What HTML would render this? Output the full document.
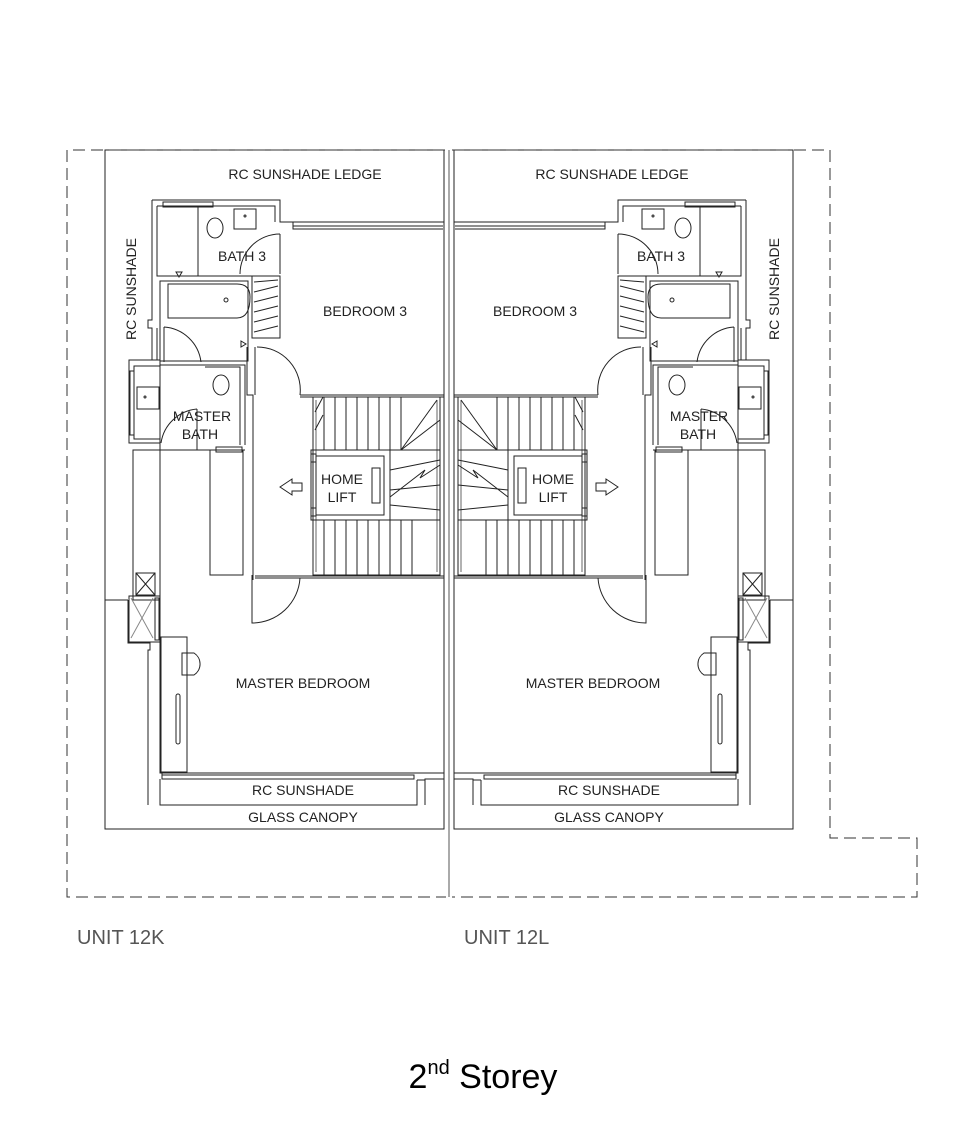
<!DOCTYPE html>
<html><head><meta charset="utf-8"><style>
html,body{margin:0;padding:0;background:#fff;}
svg{display:block;}
text{font-family:"Liberation Sans",sans-serif;fill:#222;}
</style></head><body>
<svg width="966" height="1125" viewBox="0 0 966 1125" xmlns="http://www.w3.org/2000/svg">
<defs>
<g id="unit" fill="none" stroke="#222" stroke-width="1">
  <!-- outer solid -->
  <path d="M105,150 H444 V829 H105 Z"/>
  <line x1="444" y1="150" x2="444" y2="208"/>
  <!-- bath 3 block -->
  <path d="M152,200 H280 V222 H444"/>
  <path d="M157,206 H275 V222"/>
  <rect x="163" y="202" width="50" height="5"/>
  <path d="M293,222 V229 H443 M293,226 H443"/>
  <path d="M157,206 V276 H275 M198,206 V276"/>
  <ellipse cx="215" cy="228" rx="8" ry="10"/>
  <rect x="234" y="209" width="22" height="20"/>
  <circle cx="245" cy="216" r="1"/>
  <path d="M280,234 A40,40 0 0,0 240,274"/>
  <line x1="280" y1="234" x2="280" y2="274"/>
  <path d="M176,272 l3,5 l3,-5 z"/>
  <!-- bath tub area -->
  <rect x="160" y="281" width="88" height="80"/>
  <path d="M168,284 H237 Q250,284 250,297 Q250,318 237,318 H168 Z"/>
  <circle cx="226" cy="300" r="2"/>
  <path d="M164,327 A40,40 0 0,1 201,362 M164,327 V362"/>
  <path d="M241,341 l5,3 l-5,3 z"/>
  <!-- shower screen -->
  <rect x="252" y="276" width="28" height="62"/>
  <path d="M254,282 L278,280 M254,292 L278,286 M254,302 L278,296 M254,312 L278,306 M254,322 L278,316 M254,332 L278,326"/>
  <!-- left wall -->
  <path d="M152,200 V320 H148 V328 H152 V360"/>
  <path d="M157,328 V360"/>
  <!-- master bath -->
  <path d="M129,360 H160 V443 H129 Z"/>
  <rect x="134" y="366" width="26" height="73"/>
  <rect x="130" y="371" width="4" height="64"/>
  <rect x="137" y="387" width="22" height="22"/>
  <circle cx="145" cy="397" r="1"/>
  <path d="M160,365 H245 V445"/>
  <path d="M205,367 H240 V445"/>
  <ellipse cx="221" cy="385" rx="8" ry="10"/>
  <path d="M161,443 A40,40 0 0,1 197,409 M197,409 V450"/>
  <rect x="216" y="447" width="26" height="5"/>
  <path d="M160,450 H245"/>
  <!-- corridor column -->
  <path d="M247,347 V395 H253 V580"/>
  <path d="M255,347 V395"/>
  <path d="M210,450 H243 V575 H210 Z"/>
  <path d="M133,450 H160 V600 H133 Z"/>
  <rect x="136" y="573" width="19" height="22"/>
  <path d="M136,573 l19,22 M155,573 l-19,22"/>
  <!-- bedroom 3 door -->
  <path d="M257,347 A43,43 0 0,1 300,395"/>
  <path d="M300,395 H444 M300,397 H444"/>
  <!-- stairs -->
  <rect x="313" y="397" width="127" height="178"/>
  <path d="M316,400 V572 M437,400 V572" stroke="#666"/>
  <path d="M324,397 V450 M335,397 V450 M346,397 V450 M357,397 V450 M368,397 V450 M379,397 V450 M390,397 V450 M401,397 V450"/>
  <path d="M324,520 V575 M335,520 V575 M346,520 V575 M357,520 V575 M368,520 V575 M379,520 V575 M390,520 V575 M401,520 V575 M412,520 V575"/>
  <path d="M390,450 H440 M390,520 H440 M390,450 V520"/>
  <path d="M401,450 L440,420 M390,470 L440,460 M390,490 L440,485 M390,505 L440,510 M390,497 L425,470 L420,478 L440,465"/>
  <path d="M315,412 L323,397 M315,430 L323,415 M401,450 L437,400"/>
  <!-- home lift -->
  <rect x="311" y="450" width="79" height="70"/>
  <rect x="316" y="456" width="68" height="59"/>
  <rect x="372" y="468" width="8" height="35"/>
  <rect x="311" y="454" width="5" height="8"/>
  <rect x="311" y="508" width="5" height="8"/>
  <!-- arrow -->
  <path d="M280,487 L292,479 V483 H302 V491 H292 V495 Z"/>
  <!-- master bedroom door and walls -->
  <path d="M255,578 H444 M255,576 H444"/>
  <path d="M252,575 V623 A48,48 0 0,0 300,578"/>
  <path d="M160,443 V632"/>
  <!-- master bedroom -->
  <path d="M105,600 H128 M128,600 V643 H150 V650 H148 V805"/>
  <rect x="129" y="596" width="31" height="46"/>
  <path d="M131,598 l22,40 M153,598 l-22,40" stroke="#888"/>
  <rect x="155" y="598" width="4" height="42"/>
  <rect x="161" y="637" width="26" height="135"/>
  <path d="M182,653 H194 A13,13 0 0,1 194,675 H182 Z"/>
  <rect x="176" y="694" width="4" height="50" rx="2"/>
  <path d="M160,632 V773 H444"/>
  <path d="M162,773 V775 H414 V779 H162 Z"/>
  <path d="M160,779 V805 H417 V780 M417,780 H425 V779 H444"/>
  <path d="M425,780 V805"/>
  <!-- glass canopy already in outer rect -->
</g>
</defs>

<use href="#unit"/>
<use href="#unit" transform="translate(898,0) scale(-1,1)"/>

<!-- center line -->
<line x1="449" y1="150" x2="449" y2="897" stroke="#555" stroke-width="1"/>

<!-- dashed boundaries -->
<g fill="none" stroke="#333" stroke-width="1" stroke-dasharray="12,6">
  <path d="M445,150 H67 V897 H446"/>
  <path d="M452,150 H830 V838 H917 V897 H452"/>
</g>

<!-- labels -->
<g font-size="14" text-anchor="middle">
  <text x="305" y="179">RC SUNSHADE LEDGE</text>
  <text x="612" y="179">RC SUNSHADE LEDGE</text>
  <text x="365" y="316">BEDROOM 3</text>
  <text x="535" y="316">BEDROOM 3</text>
  <text x="242" y="261">BATH 3</text>
  <text x="661" y="261">BATH 3</text>
  <text x="202" y="421">MASTER</text>
  <text x="200" y="439">BATH</text>
  <text x="699" y="421">MASTER</text>
  <text x="698" y="439">BATH</text>
  <text x="342" y="484">HOME</text>
  <text x="342" y="502">LIFT</text>
  <text x="553" y="484">HOME</text>
  <text x="553" y="502">LIFT</text>
  <text x="303" y="688">MASTER BEDROOM</text>
  <text x="593" y="688">MASTER BEDROOM</text>
  <text x="303" y="795">RC SUNSHADE</text>
  <text x="609" y="795">RC SUNSHADE</text>
  <text x="303" y="822">GLASS CANOPY</text>
  <text x="609" y="822">GLASS CANOPY</text>
  <text transform="translate(136,289) rotate(-90)">RC SUNSHADE</text>
  <text transform="translate(779,289) rotate(-90)">RC SUNSHADE</text>
</g>
<g font-size="20" fill="#555">
  <text x="77" y="944" style="fill:#555">UNIT 12K</text>
  <text x="464" y="944" style="fill:#555">UNIT 12L</text>
</g>
<text x="483" y="1088" text-anchor="middle" font-size="34" style="fill:#000">2<tspan font-size="20" dy="-14">nd</tspan><tspan dy="14"> Storey</tspan></text>
</svg>
</body></html>
